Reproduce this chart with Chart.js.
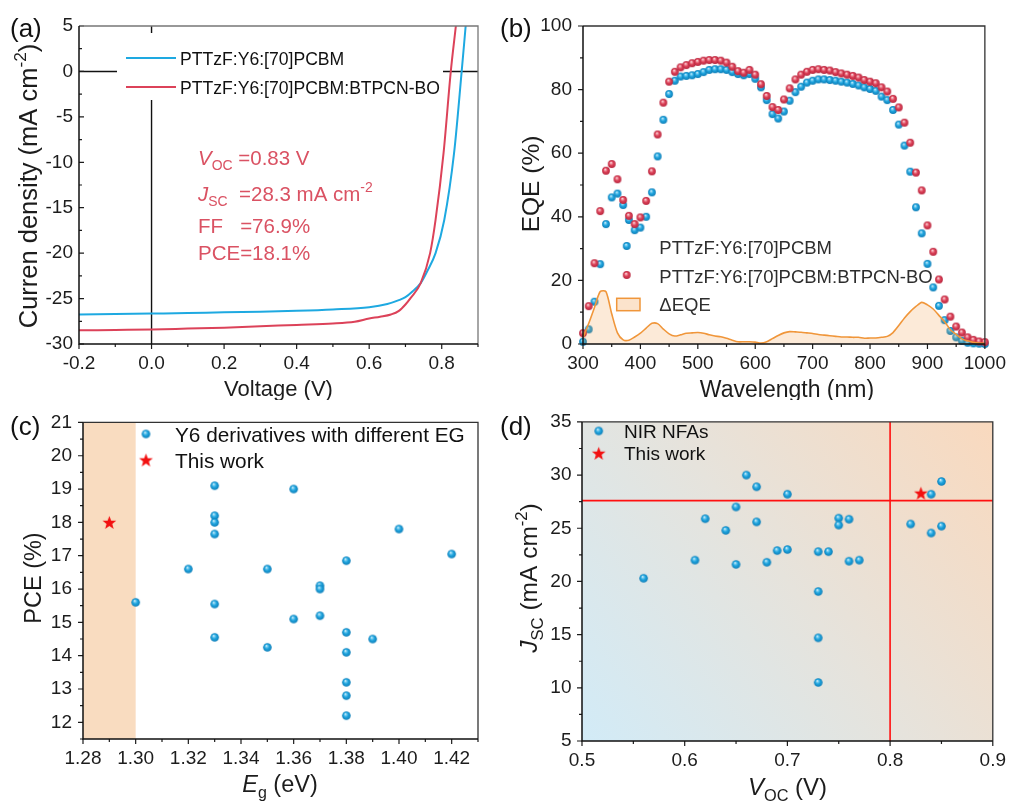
<!DOCTYPE html>
<html>
<head>
<meta charset="utf-8">
<title>PTTzF:Y6 device summary</title>
<script src="https://cdn.jsdelivr.net/npm/chart.js@4.4.1/dist/chart.umd.min.js"></script>
<style>
  html, body { margin: 0; padding: 0; background: #ffffff; }
  #figure { position: relative; width: 1014px; height: 801px; overflow: hidden; background: #ffffff; }
  #figure canvas { position: absolute; display: block; }
</style>
</head>
<body>
<div id="figure">
  <canvas id="panelA" width="500" height="400" style="left:0px;top:0px"></canvas>
  <canvas id="panelB" width="514" height="400" style="left:500px;top:0px"></canvas>
  <canvas id="panelC" width="500" height="401" style="left:0px;top:400px"></canvas>
  <canvas id="panelD" width="514" height="401" style="left:500px;top:400px"></canvas>
</div>
<script>
// ---------- (a) J–V characteristics ----------
const jvVoltRef   = [-0.2, -0.1, 0.0, 0.1, 0.2, 0.3, 0.4, 0.5, 0.6, 0.65, 0.68, 0.70, 0.72, 0.742, 0.76, 0.783, 0.807, 0.834, 0.855, 0.866];
const jvCurrRef   = [-26.75, -26.7, -26.65, -26.6, -26.5, -26.45, -26.35, -26.2, -25.95, -25.6, -25.2, -24.85, -24.2, -23.3, -22.0, -20.0, -16.35, -9.0, 0.0, 5.0];
const jvVoltBlend = [-0.2, -0.1, 0.0, 0.1, 0.2, 0.3, 0.4, 0.5, 0.56, 0.6, 0.63, 0.66, 0.682, 0.70, 0.714, 0.742, 0.768, 0.783, 0.805, 0.825, 0.839];
const jvCurrBlend = [-28.5, -28.45, -28.4, -28.3, -28.2, -28.05, -27.9, -27.75, -27.55, -27.2, -27.0, -26.75, -26.35, -25.65, -24.95, -23.3, -20.0, -16.35, -9.0, 0.0, 5.0];
const jvVoltTicks = [-0.2, 0.0, 0.2, 0.4, 0.6, 0.8];
const jvCurrTicks = [-30, -25, -20, -15, -10, -5, 0, 5];

// ---------- (b) EQE spectra ----------
const eqeWavelength = [300, 310, 320, 330, 340, 350, 360, 370, 380, 390, 400, 410, 420, 430, 440, 450, 460, 470, 480, 490,
  500, 510, 520, 530, 540, 550, 560, 570, 580, 590, 600, 610, 620, 630, 640, 650, 660, 670, 680, 690,
  700, 710, 720, 730, 740, 750, 760, 770, 780, 790, 800, 810, 820, 830, 840, 850, 860, 870, 880, 890,
  900, 910, 920, 930, 940, 950, 960, 970, 980, 990, 1000];
const eqeRef = [0.7, 4.6, 13.3, 25.1, 37.7, 46.1, 47.3, 43.7, 39.0, 35.8, 36.6, 40.0, 47.7, 59.0, 70.5, 78.6, 82.8, 84.1, 84.3, 84.5,
  84.9, 85.5, 86.2, 86.4, 86.4, 86.2, 85.5, 84.9, 84.5, 84.9, 83.4, 80.7, 76.7, 72.3, 70.9, 73.1, 76.5, 79.2, 80.9, 82.2,
  82.8, 83.2, 83.2, 83.0, 82.8, 82.5, 82.2, 81.8, 81.3, 80.7, 80.2, 79.6, 77.8, 76.7, 73.6, 69.0, 62.4, 54.2, 43.0, 34.8,
  25.2, 17.8, 12.0, 7.5, 4.1, 2.1, 1.0, 0.4, 0.2, 0.1, 0.0];
const eqeBlend = [3.4, 11.9, 25.4, 41.8, 54.5, 56.6, 51.8, 45.3, 40.3, 37.7, 39.8, 45.0, 54.3, 65.9, 75.9, 82.5, 85.6, 87.0, 87.7, 88.3,
  88.7, 89.1, 89.3, 89.3, 89.1, 88.5, 87.2, 85.8, 85.3, 86.2, 84.7, 81.7, 78.0, 74.5, 73.6, 76.9, 80.4, 83.2, 84.7, 85.6,
  86.2, 86.4, 86.2, 86.0, 85.5, 85.1, 84.7, 84.3, 83.8, 83.0, 82.5, 82.0, 80.7, 79.4, 77.1, 74.4, 69.6, 63.3, 53.9, 48.3,
  37.3, 29.0, 20.3, 14.0, 8.6, 5.5, 3.6, 2.1, 1.3, 0.8, 0.6];
const eqeDelta = [2.0, 6.5, 11.5, 16.5, 16.5, 9.5, 3.5, 1.3, 1.2, 2.2, 3.4, 5.0, 6.5, 6.4, 4.7, 3.2, 2.5, 2.9, 3.4, 3.5,
  3.6, 3.4, 2.9, 2.5, 2.3, 1.8, 1.2, 0.7, 0.7, 0.7, 0.6, 0.3, 0.7, 1.7, 2.7, 3.5, 3.9, 3.8, 3.7, 3.5,
  3.3, 3.0, 2.8, 2.6, 2.4, 2.2, 2.2, 2.1, 2.1, 1.8, 1.9, 1.9, 2.1, 2.4, 3.6, 5.8, 8.2, 10.2, 11.8, 13.1,
  12.3, 11.0, 9.0, 7.0, 4.5, 3.0, 1.6, 1.0, 0.5, 0.3, 0.2];
const eqeWaveTicks = [300, 400, 500, 600, 700, 800, 900, 1000];
const eqeTicks = [0, 20, 40, 60, 80, 100];

// ---------- (c) PCE versus optical gap ----------
const egValues  = [1.30, 1.32, 1.33, 1.33, 1.33, 1.33, 1.33, 1.33, 1.35, 1.35, 1.36, 1.36, 1.37, 1.37, 1.37, 1.38, 1.38, 1.38, 1.38, 1.38, 1.38, 1.39, 1.40, 1.42];
const pceValues = [15.6, 16.6, 19.1, 18.2, 18.0, 17.65, 15.55, 14.55, 16.6, 14.25, 19.0, 15.1, 16.1, 16.0, 15.2, 16.85, 14.7, 14.1, 13.2, 12.8, 12.2, 14.5, 17.8, 17.05];
const egThisWork  = [1.29];
const pceThisWork = [18.0];
const egShadeRange = [1.28, 1.30];
const egTicks  = [1.28, 1.30, 1.32, 1.34, 1.36, 1.38, 1.40, 1.42];
const pceTicks = [12, 13, 14, 15, 16, 17, 18, 19, 20, 21];

// ---------- (d) Jsc versus Voc for NIR acceptors ----------
const vocValues = [0.56, 0.61, 0.62, 0.64, 0.65, 0.65, 0.66, 0.67, 0.67, 0.68, 0.69, 0.70, 0.70, 0.73, 0.73, 0.73, 0.73, 0.74, 0.75, 0.75, 0.76, 0.76, 0.77, 0.82, 0.84, 0.84, 0.85, 0.85];
const jscValues = [20.3, 22.0, 25.9, 24.8, 27.0, 21.6, 30.0, 28.9, 25.6, 21.8, 22.9, 28.2, 23.0, 22.8, 19.05, 14.7, 10.5, 22.8, 25.95, 25.3, 25.85, 21.9, 22.0, 25.4, 28.2, 24.55, 29.4, 25.2];
const vocThisWork = [0.83];
const jscThisWork = [28.3];
const vocThreshold = 0.8;
const jscThreshold = 27.6;
const vocTicks = [0.5, 0.6, 0.7, 0.8, 0.9];
const jscTicks = [5, 10, 15, 20, 25, 30, 35];

// ---------- shared styling ----------
const FONT = '"Liberation Sans", Arial, Helvetica, sans-serif';
const INK = '#1c1c1c';
const BLUE_LINE = '#1EA9E1';
const RED_LINE = '#DC4259';
const TEXT_RED = '#DA5263';

function fontStr(size, italic) { return (italic ? 'italic ' : '') + size + 'px ' + FONT; }

function points(xs, ys) { return xs.map((x, i) => ({ x: x, y: ys[i] })); }

function minorsOf(major, min, max) {
  const step = major[1] - major[0];
  const out = [];
  if (major[0] - step / 2 >= min - 1e-9) out.push(major[0] - step / 2);
  for (const m of major) { const v = m + step / 2; if (v <= max + 1e-9) out.push(v); }
  return out;
}

// shaded sphere marker
function makeBall(r, light, base, dark) {
  const c = document.createElement('canvas');
  const d = Math.ceil(r * 2) + 2;
  c.width = d; c.height = d;
  const g = c.getContext('2d');
  const cx = d / 2, cy = d / 2;
  const grad = g.createRadialGradient(cx - r * 0.25, cy - r * 0.4, 0, cx, cy, r);
  grad.addColorStop(0, '#ffffff');
  grad.addColorStop(0.22, light);
  grad.addColorStop(0.55, base);
  grad.addColorStop(1, dark);
  g.fillStyle = grad;
  g.beginPath(); g.arc(cx, cy, r, 0, Math.PI * 2); g.fill();
  return c;
}

// filled five-pointed star marker
function makeStar(R, color) {
  const c = document.createElement('canvas');
  const d = Math.ceil(R * 2) + 2;
  c.width = d; c.height = d;
  const g = c.getContext('2d');
  const cx = d / 2, cy = d / 2 + R * 0.08;
  g.fillStyle = color;
  g.beginPath();
  for (let i = 0; i < 10; i++) {
    const rr = i % 2 === 0 ? R : R * 0.42;
    const a = -Math.PI / 2 + i * Math.PI / 5;
    const px = cx + rr * Math.cos(a), py = cy + rr * Math.sin(a);
    if (i === 0) g.moveTo(px, py); else g.lineTo(px, py);
  }
  g.closePath(); g.fill();
  return c;
}

const ballBlueS = makeBall(3.9, '#7fd0f2', '#1DA3DD', '#117fb8');
const ballRedS  = makeBall(3.9, '#f3a0ab', '#DC4057', '#b82840');
const ballBlueL = makeBall(4.3, '#7fd0f2', '#1DA3DD', '#117fb8');
const starRed   = makeStar(7.2, '#F21010');

// text with italic / subscript / superscript runs
function drawRich(ctx, parts, x, y, size, align, color, rotate) {
  ctx.save();
  ctx.fillStyle = color;
  ctx.textBaseline = 'alphabetic';
  ctx.textAlign = 'left';
  let w = 0;
  const runs = parts.map(p => {
    const s = (p.sub || p.sup) ? size * 0.68 : size;
    ctx.font = fontStr(s, p.it);
    const run = { t: p.t, s: s, it: p.it, dx: w, dy: p.sub ? size * 0.26 : (p.sup ? -size * 0.42 : 0) };
    w += ctx.measureText(p.t).width;
    return run;
  });
  ctx.translate(x, y);
  if (rotate) ctx.rotate(-Math.PI / 2);
  const x0 = align === 'center' ? -w / 2 : (align === 'right' ? -w : 0);
  for (const r of runs) { ctx.font = fontStr(r.s, r.it); ctx.fillText(r.t, x0 + r.dx, r.dy); }
  ctx.restore();
}

function axisCfg(min, max, tickVals, fmt, size, pad) {
  return {
    type: 'linear', min: min, max: max,
    afterBuildTicks: s => { s.ticks = tickVals.map(v => ({ value: v })); },
    afterFit: s => { if (s.isHorizontal()) s.height = size; else s.width = size; },
    grid: { display: false, drawTicks: false },
    border: { display: false },
    ticks: { callback: v => fmt(v), font: { family: FONT, size: 19 }, color: INK, padding: pad, autoSkip: false, maxRotation: 0, minRotation: 0 }
  };
}

function baseOptions(padding, xAxis, yAxis) {
  return {
    responsive: false, animation: false, events: [],
    layout: { padding: padding },
    plugins: { legend: { display: false }, tooltip: { enabled: false } },
    scales: { x: xAxis, y: yAxis }
  };
}

// frame plus major/minor tick marks, placed through the chart's own scales
function drawFrameAndTicks(chart, spec) {
  const ctx = chart.ctx;
  const { left, right, top, bottom } = chart.chartArea;
  const xs = chart.scales.x, ys = chart.scales.y;
  ctx.save();
  ctx.strokeStyle = INK;
  ctx.lineWidth = 1.2;
  const xd = spec.xIn ? -1 : 1;
  const yd = spec.yIn ? 1 : -1;
  const xMinor = minorsOf(spec.xMajor, xs.min, xs.max);
  const yMinor = minorsOf(spec.yMajor, ys.min, ys.max);
  ctx.beginPath();
  spec.xMajor.forEach(v => { const p = xs.getPixelForValue(v); ctx.moveTo(p, bottom); ctx.lineTo(p, bottom + xd * 5); });
  xMinor.forEach(v => { const p = xs.getPixelForValue(v); ctx.moveTo(p, bottom); ctx.lineTo(p, bottom + xd * 3); });
  spec.yMajor.forEach(v => { const p = ys.getPixelForValue(v); ctx.moveTo(left, p); ctx.lineTo(left + yd * 5, p); });
  yMinor.forEach(v => { const p = ys.getPixelForValue(v); ctx.moveTo(left, p); ctx.lineTo(left + yd * 3, p); });
  ctx.stroke();
  // top and right edges
  ctx.strokeStyle = spec.edgeColor || '#333333';
  ctx.lineWidth = 1.3;
  ctx.beginPath();
  ctx.moveTo(left, top); ctx.lineTo(right, top); ctx.lineTo(right, bottom);
  ctx.stroke();
  // left and bottom axes
  ctx.strokeStyle = '#111111';
  ctx.lineWidth = 1.5;
  ctx.beginPath();
  ctx.moveTo(left, top); ctx.lineTo(left, bottom); ctx.lineTo(right, bottom);
  ctx.stroke();
  ctx.restore();
}

function panelLabel(ctx, text, x, y) {
  ctx.save();
  ctx.font = fontStr(26, false);
  ctx.fillStyle = '#111111';
  ctx.textBaseline = 'alphabetic';
  ctx.fillText(text, x, y);
  ctx.restore();
}

// ---------- panel (a) ----------
new Chart(document.getElementById('panelA'), {
  type: 'scatter',
  data: {
    datasets: [
      { label: 'PTTzF:Y6:[70]PCBM:BTPCN-BO', data: points(jvVoltBlend, jvCurrBlend), showLine: true,
        borderColor: RED_LINE, borderWidth: 2, pointRadius: 0, cubicInterpolationMode: 'monotone', order: 1 },
      { label: 'PTTzF:Y6:[70]PCBM', data: points(jvVoltRef, jvCurrRef), showLine: true,
        borderColor: BLUE_LINE, borderWidth: 2, pointRadius: 0, cubicInterpolationMode: 'monotone', order: 2 }
    ]
  },
  options: baseOptions({ left: 0, right: 22, top: 26, bottom: 0 },
    axisCfg(-0.2, 0.9, jvVoltTicks, v => v.toFixed(1), 56, 8),
    axisCfg(-30, 5, jvCurrTicks, v => String(v), 79, 6)),
  plugins: [{
    id: 'jvDecor',
    beforeDatasetsDraw(chart) {
      const ctx = chart.ctx;
      const { left, right, top, bottom } = chart.chartArea;
      const x0 = chart.scales.x.getPixelForValue(0), y0 = chart.scales.y.getPixelForValue(0);
      ctx.save();
      ctx.strokeStyle = '#111111';
      ctx.lineWidth = 1.4;
      ctx.beginPath();
      ctx.moveTo(left, y0); ctx.lineTo(right, y0);
      ctx.moveTo(x0, top); ctx.lineTo(x0, bottom);
      ctx.stroke();
      // legend box
      ctx.fillStyle = '#ffffff';
      ctx.fillRect(117, 33, 326, 67);
      ctx.restore();
    },
    afterDatasetsDraw(chart) {
      const ctx = chart.ctx;
      drawFrameAndTicks(chart, { xMajor: jvVoltTicks, yMajor: jvCurrTicks, xIn: false, yIn: true, edgeColor: '#777777' });
      ctx.save();
      ctx.lineWidth = 2;
      ctx.strokeStyle = BLUE_LINE;
      ctx.beginPath(); ctx.moveTo(126, 58); ctx.lineTo(176, 58); ctx.stroke();
      ctx.strokeStyle = RED_LINE;
      ctx.beginPath(); ctx.moveTo(126, 87); ctx.lineTo(176, 87); ctx.stroke();
      ctx.font = fontStr(17.6, false);
      ctx.fillStyle = '#111111';
      ctx.fillText('PTTzF:Y6:[70]PCBM', 180, 65);
      ctx.fillText('PTTzF:Y6:[70]PCBM:BTPCN-BO', 180, 94);
      ctx.restore();
      // device metrics
      drawRich(ctx, [{ t: 'V', it: true }, { t: 'OC', sub: true }, { t: ' =0.83 V' }], 198, 165, 20.5, 'left', TEXT_RED);
      drawRich(ctx, [{ t: 'J', it: true }, { t: 'SC', sub: true }, { t: '  =28.3 mA cm' }, { t: '-2', sup: true }], 198, 200.5, 20.5, 'left', TEXT_RED);
      drawRich(ctx, [{ t: 'FF   =76.9%' }], 198, 233, 20.5, 'left', TEXT_RED);
      drawRich(ctx, [{ t: 'PCE=18.1%' }], 198, 260, 20.5, 'left', TEXT_RED);
      // axis titles
      drawRich(ctx, [{ t: 'Voltage (V)' }], 278.5, 396, 22, 'center', INK);
      drawRich(ctx, [{ t: 'Curren density (mA cm' }, { t: '-2', sup: true }, { t: ')' }], 37, 186, 25.5, 'center', INK, true);
      panelLabel(ctx, '(a)', 10, 37);
    }
  }]
});

// ---------- panel (b) ----------
new Chart(document.getElementById('panelB'), {
  type: 'scatter',
  data: {
    datasets: [
      { label: '\u0394EQE', data: points(eqeWavelength, eqeDelta), showLine: true, fill: 'origin',
        borderColor: '#F0963A', borderWidth: 1.6, backgroundColor: 'rgba(240,150,60,0.2)',
        pointRadius: 0, tension: 0.25, order: 0 },
      { label: 'PTTzF:Y6:[70]PCBM:BTPCN-BO', data: points(eqeWavelength, eqeBlend),
        pointStyle: ballRedS, pointRadius: 4, order: 1, clip: 5 },
      { label: 'PTTzF:Y6:[70]PCBM', data: points(eqeWavelength, eqeRef),
        pointStyle: ballBlueS, pointRadius: 4, order: 2, clip: 5 }
    ]
  },
  options: baseOptions({ left: 0, right: 23, top: 26, bottom: 0 },
    axisCfg(300, 1000, eqeWaveTicks, v => String(v), 56, 8),
    axisCfg(0, 100, eqeTicks, v => String(v), 83, 11)),
  plugins: [{
    id: 'eqeDecor',
    afterDatasetsDraw(chart) {
      const ctx = chart.ctx;
      drawFrameAndTicks(chart, { xMajor: eqeWaveTicks, yMajor: eqeTicks, xIn: false, yIn: false });
      ctx.save();
      ctx.drawImage(ballBlueS, 126.7 - ballBlueS.width / 2, 246 - ballBlueS.height / 2);
      ctx.drawImage(ballRedS, 126.7 - ballRedS.width / 2, 275 - ballRedS.height / 2);
      ctx.fillStyle = '#FBE3CC';
      ctx.fillRect(116.7, 298.3, 23.3, 12.4);
      ctx.strokeStyle = '#F0963A';
      ctx.lineWidth = 1.5;
      ctx.strokeRect(116.7, 298.3, 23.3, 12.4);
      ctx.font = fontStr(18.5, false);
      ctx.fillStyle = '#2e2e2e';
      ctx.fillText('PTTzF:Y6:[70]PCBM', 159.3, 254);
      ctx.fillText('PTTzF:Y6:[70]PCBM:BTPCN-BO', 159.3, 283);
      ctx.fillText('\u0394EQE', 159.3, 310.5);
      ctx.restore();
      drawRich(ctx, [{ t: 'Wavelength (nm)' }], 287, 396.5, 23, 'center', INK);
      drawRich(ctx, [{ t: 'EQE (%)' }], 38.5, 184, 24.5, 'center', INK, true);
      panelLabel(ctx, '(b)', 0, 37);
    }
  }]
});

// ---------- panel (c) ----------
new Chart(document.getElementById('panelC'), {
  type: 'scatter',
  data: {
    datasets: [
      { label: 'This work', data: points(egThisWork, pceThisWork), pointStyle: starRed, pointRadius: 7, order: 0 },
      { label: 'Y6 derivatives with different EG', data: points(egValues, pceValues), pointStyle: ballBlueL, pointRadius: 4, order: 1 }
    ]
  },
  options: baseOptions({ left: 0, right: 22, top: 19, bottom: 0 },
    axisCfg(1.28, 1.43, egTicks, v => v.toFixed(2), 62, 8),
    axisCfg(11.5, 21, pceTicks, v => String(v), 83, 11)),
  plugins: [{
    id: 'pceDecor',
    beforeDatasetsDraw(chart) {
      const ctx = chart.ctx;
      const { top, bottom } = chart.chartArea;
      const xa = chart.scales.x.getPixelForValue(egShadeRange[0]);
      const xb = chart.scales.x.getPixelForValue(egShadeRange[1]);
      ctx.save();
      ctx.fillStyle = '#F9DCC0';
      ctx.fillRect(xa, top, xb - xa, bottom - top);
      ctx.restore();
    },
    afterDatasetsDraw(chart) {
      const ctx = chart.ctx;
      drawFrameAndTicks(chart, { xMajor: egTicks, yMajor: pceTicks, xIn: false, yIn: false });
      ctx.save();
      ctx.drawImage(ballBlueL, 146 - ballBlueL.width / 2, 34 - ballBlueL.height / 2);
      ctx.drawImage(starRed, 146 - starRed.width / 2, 60 - starRed.height / 2);
      ctx.font = fontStr(20.8, false);
      ctx.fillStyle = '#111111';
      ctx.fillText('Y6 derivatives with different EG', 175, 42);
      ctx.fillText('This work', 175, 68);
      ctx.restore();
      drawRich(ctx, [{ t: 'E', it: true }, { t: 'g', sub: true }, { t: ' (eV)' }], 280, 392, 23.5, 'center', INK);
      drawRich(ctx, [{ t: 'PCE (%)' }], 41, 178, 23.5, 'center', INK, true);
      panelLabel(ctx, '(c)', 10, 34.5);
    }
  }]
});

// ---------- panel (d) ----------
new Chart(document.getElementById('panelD'), {
  type: 'scatter',
  data: {
    datasets: [
      { label: 'This work', data: points(vocThisWork, jscThisWork), pointStyle: starRed, pointRadius: 7, order: 0 },
      { label: 'NIR NFAs', data: points(vocValues, jscValues), pointStyle: ballBlueL, pointRadius: 4, order: 1 }
    ]
  },
  options: baseOptions({ left: 0, right: 21, top: 16, bottom: 0 },
    axisCfg(0.5, 0.9, vocTicks, v => v.toFixed(1), 60, 8),
    axisCfg(5, 35, jscTicks, v => String(v), 82, 10.5)),
  plugins: [{
    id: 'jscDecor',
    beforeDatasetsDraw(chart) {
      const ctx = chart.ctx;
      const { left, right, top, bottom } = chart.chartArea;
      ctx.save();
      const grad = ctx.createLinearGradient(left, bottom, right, top);
      grad.addColorStop(0, '#D2EBF7');
      grad.addColorStop(0.5, '#E6E3DC');
      grad.addColorStop(1, '#F9D9BE');
      ctx.fillStyle = grad;
      ctx.fillRect(left, top, right - left, bottom - top);
      const xv = chart.scales.x.getPixelForValue(vocThreshold);
      const yj = chart.scales.y.getPixelForValue(jscThreshold);
      ctx.strokeStyle = '#FF1010';
      ctx.lineWidth = 1.6;
      ctx.beginPath();
      ctx.moveTo(xv, top); ctx.lineTo(xv, bottom);
      ctx.moveTo(left, yj); ctx.lineTo(right, yj);
      ctx.stroke();
      ctx.restore();
    },
    afterDatasetsDraw(chart) {
      const ctx = chart.ctx;
      drawFrameAndTicks(chart, { xMajor: vocTicks, yMajor: jscTicks, xIn: false, yIn: false });
      ctx.save();
      ctx.drawImage(ballBlueL, 98.7 - ballBlueL.width / 2, 31 - ballBlueL.height / 2);
      ctx.drawImage(starRed, 98.7 - starRed.width / 2, 53.3 - starRed.height / 2);
      ctx.font = fontStr(19, false);
      ctx.fillStyle = '#111111';
      ctx.fillText('NIR NFAs', 124, 37.5);
      ctx.fillText('This work', 124, 60);
      ctx.restore();
      drawRich(ctx, [{ t: 'V', it: true }, { t: 'OC', sub: true }, { t: ' (V)' }], 287.5, 395, 24, 'center', INK);
      drawRich(ctx, [{ t: 'J', it: true }, { t: 'SC', sub: true }, { t: ' (mA cm' }, { t: '-2', sup: true }, { t: ')' }], 37, 178, 24.5, 'center', INK, true);
      panelLabel(ctx, '(d)', 0, 34.5);
    }
  }]
});
</script>
</body>
</html>
